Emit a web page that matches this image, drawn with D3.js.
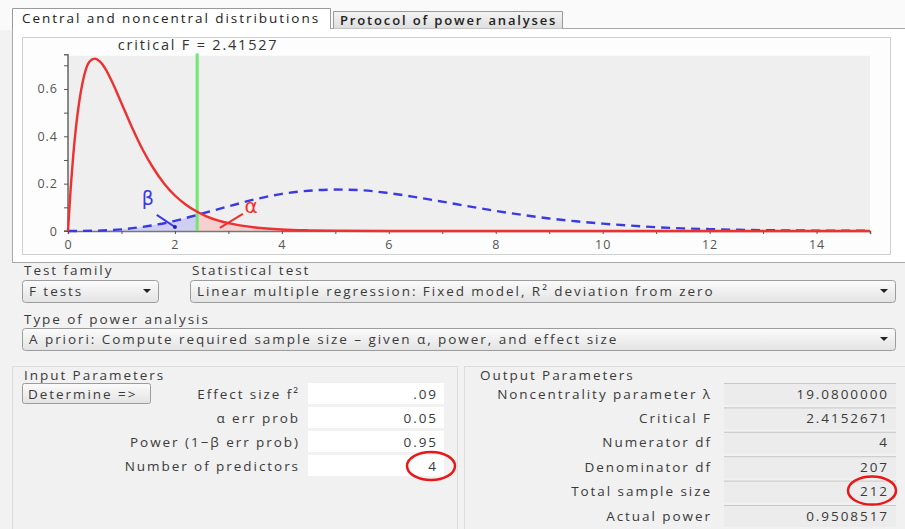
<!DOCTYPE html>
<html>
<head>
<meta charset="utf-8">
<script src="https://cdn.jsdelivr.net/npm/d3@7"></script>
<style>
  html,body{margin:0;padding:0;background:#f2f2f2;}
  svg{display:block;font-family:"Open Sans","DejaVu Sans",sans-serif;}
</style>
</head>
<body>
<svg id="c" width="905" height="529"></svg>
<script>
// ---------- data ----------
const criticalF = 2.41527;
const redX = [0,0.05,0.1,0.15,0.2,0.3,0.4,0.5,0.6,0.7,0.8,1.0,1.2,1.4,1.6,1.8,2.0,2.2,2.41527,2.6,2.8,3.0,3.5,4.0,4.5,5,6,7,8,10,12,15];
const redY = [0,0.18,0.325,0.44,0.53,0.655,0.715,0.728,0.715,0.685,0.642,0.54,0.436,0.342,0.264,0.200,0.150,0.112,0.081,0.061,0.045,0.033,0.015,0.0065,0.0028,0.0012,0.0002,0,0,0,0,0];
const blueX = [0,0.5,1,1.5,2,2.41527,3,3.5,4,4.5,5,5.5,6,6.5,7,7.5,8,8.5,9,9.5,10,10.5,11,11.5,12,12.5,13,13.5,14,14.5,15];
const blueY = [0,0.0012,0.007,0.021,0.043,0.068,0.104,0.134,0.157,0.170,0.175,0.172,0.160,0.143,0.124,0.104,0.085,0.068,0.053,0.041,0.031,0.023,0.016,0.011,0.008,0.005,0.0035,0.0024,0.0016,0.001,0.0007];
const xTickLabels = [0,2,4,6,8,10,12,14];
const yTickLabels = [0,0.2,0.4,0.6];
const tabLabels = ["Central and noncentral distributions","Protocol of power analyses"];
const testFamily = "F tests";
const statisticalTest = "Linear multiple regression: Fixed model, R² deviation from zero";
const powerAnalysis = "A priori: Compute required sample size – given α, power, and effect size";
const inputLabels = ["Effect size f²","α err prob","Power (1−β err prob)","Number of predictors"];
const inputValues = [".09","0.05","0.95","4"];
const outputLabels = ["Noncentrality parameter λ","Critical F","Numerator df","Denominator df","Total sample size","Actual power"];
const outputValues = ["19.0800000","2.4152671","4","207","212","0.9508517"];
const circledInput = 3, circledOutput = 4;

const red = d3.zip(redX, redY).map(d=>({x:d[0],y:d[1]}));
const blue = d3.zip(blueX, blueY).map(d=>({x:d[0],y:d[1]}));

// ---------- layout ----------
const svg = d3.select("#c");
const txt = "#3a3a3a";
const fs = 13.5, ls = 1.95;

svg.append("rect").attr("x",0).attr("y",0).attr("width",905).attr("height",30).attr("fill","#fafafa");
svg.append("rect").attr("x",12.5).attr("y",28.5).attr("width",900).attr("height",234).attr("fill","#fff").attr("stroke","#a8a8a8");

const defs = svg.append("defs");
const grad = defs.append("linearGradient").attr("id","tabg").attr("x1",0).attr("y1",0).attr("x2",0).attr("y2",1);
grad.append("stop").attr("offset",0).attr("stop-color","#f4f4f4");
grad.append("stop").attr("offset",1).attr("stop-color","#dedede");
const sg = defs.append("linearGradient").attr("id","selg").attr("x1",0).attr("y1",0).attr("x2",0).attr("y2",1);
sg.append("stop").attr("offset",0).attr("stop-color","#fbfbfb");
sg.append("stop").attr("offset",1).attr("stop-color","#e3e3e3");

// tab 2
svg.append("path").attr("d","M333.5,28.5 V11.5 H562.5 V28.5").attr("fill","url(#tabg)").attr("stroke","#9a9a9a");
svg.append("text").attr("x",340).attr("y",24.5).attr("font-size",13).attr("letter-spacing",1.85).attr("fill","#222").attr("font-weight",600).text(tabLabels[1]);
// tab 1 (active)
svg.append("path").attr("d","M12.5,29 V8.5 H330.5 V29").attr("fill","#fff").attr("stroke","#9a9a9a");
svg.append("text").attr("x",22).attr("y",23).attr("font-size",fs).attr("letter-spacing",ls).attr("fill","#222").text(tabLabels[0]);

// inner chart box
svg.append("rect").attr("x",22.5).attr("y",37.5).attr("width",868).attr("height",217).attr("fill","#fdfdfd").attr("stroke","#d0d0d0");

// ---------- chart ----------
const x = d3.scaleLinear().domain([0,15]).range([68,870]);
const y = d3.scaleLinear().domain([0,0.735]).range([231,57]);

svg.append("rect").attr("x",x(0)).attr("y",y(0.74)).attr("width",x(15)-x(0)).attr("height",y(0)-y(0.74)).attr("fill","#efefef");

const curve = d3.curveMonotoneX;
svg.append("path").datum(blue.filter(d=>d.x<=criticalF))
  .attr("d", d3.area().x(d=>x(d.x)).y0(y(0)).y1(d=>y(d.y)).curve(curve))
  .attr("fill","#cfcff3");
svg.append("path").datum(red.filter(d=>d.x>=criticalF))
  .attr("d", d3.area().x(d=>x(d.x)).y0(y(0)).y1(d=>y(d.y)).curve(curve))
  .attr("fill","#f5d0d0");

const xAxis = d3.axisBottom(x).tickValues(d3.range(0,16,1)).tickSize(3).tickFormat(d=>xTickLabels.includes(d)?d:"");
const gx = svg.append("g").attr("transform",`translate(0,${y(0)})`).call(xAxis);
gx.select(".domain").attr("stroke","#777").attr("stroke-width",1.5);
gx.selectAll(".tick line").attr("stroke","#555");
gx.selectAll("text").attr("font-size",12.5).attr("letter-spacing",1).attr("fill","#555").attr("dy","0.95em").attr("font-family","'Open Sans',sans-serif");

const yAxis = d3.axisLeft(y).tickValues(d3.range(0,0.71,0.1)).tickSize(4).tickFormat(d=>{
  const r = Math.round(d*10)/10; return yTickLabels.includes(r) ? (r===0?"0":r.toFixed(1)) : "";});
const gy = svg.append("g").attr("transform",`translate(${x(0)},0)`).call(yAxis);
gy.select(".domain").attr("stroke","#666").attr("stroke-width",1.5).attr("d",`M-4,${y(0.745)}H0V${y(0)}H-4`);
gy.selectAll(".tick line").attr("stroke","#555");
gy.selectAll("text").attr("font-size",12.5).attr("letter-spacing",1).attr("fill","#555").attr("x",-10).attr("font-family","'Open Sans',sans-serif");

svg.append("line").attr("x1",x(criticalF)).attr("x2",x(criticalF)).attr("y1",y(0.75)).attr("y2",y(0))
  .attr("stroke","#6ee86e").attr("stroke-width",3);
svg.append("text").attr("x",x(criticalF)+1).attr("y",50).attr("text-anchor","middle").attr("font-size",14.5).attr("letter-spacing",1.8).attr("fill","#333").text("critical F = " + criticalF);

const line = d3.line().x(d=>x(d.x)).y(d=>y(d.y)).curve(curve);
svg.append("path").datum(blue).attr("d",line).attr("fill","none").attr("stroke","#3a3ae0").attr("stroke-width",2.4).attr("stroke-dasharray","9,6");
svg.append("path").datum(red).attr("d",line).attr("fill","none").attr("stroke","#ee3030").attr("stroke-width",2.4);

// annotations
svg.append("line").attr("x1",x(1.66)).attr("y1",y(0.068)).attr("x2",x(2.0)).attr("y2",y(0.017)).attr("stroke","#3a3ae0").attr("stroke-width",2);
svg.append("circle").attr("cx",x(2.0)).attr("cy",y(0.017)).attr("r",2).attr("fill","#2020c0");
svg.append("text").attr("x",x(1.38)).attr("y",y(0.11)).attr("font-size",19).attr("fill","#3a3ae0").attr("font-family","'DejaVu Sans',sans-serif").text("β");
svg.append("line").attr("x1",x(3.27)).attr("y1",y(0.072)).attr("x2",x(2.84)).attr("y2",y(0.013)).attr("stroke","#ee3030").attr("stroke-width",2);
svg.append("text").attr("x",x(3.3)).attr("y",y(0.075)).attr("font-size",20).attr("fill","#ee3030").attr("font-family","'DejaVu Sans',sans-serif").text("α");

// ---------- form ----------
function label(xp, yp, t, anchor){
  return svg.append("text").attr("x",xp).attr("y",yp).attr("font-size",fs).attr("letter-spacing",ls)
    .attr("fill",txt).attr("text-anchor",anchor||"start").text(t);
}
function select(x0, y0, w, h, t){
  svg.append("rect").attr("x",x0+0.5).attr("y",y0+0.5).attr("width",w).attr("height",h).attr("rx",3)
    .attr("fill","url(#selg)").attr("stroke","#9c9c9c");
  label(x0+7, y0+h/2+5, t);
  svg.append("path").attr("d",`M${x0+w-15},${y0+h/2-2} h8 l-4,4 z`).attr("fill","#222");
}
label(24,275,"Test family");
label(192,275,"Statistical test");
select(22,280,136,22,testFamily);
select(190,280,705,22,statisticalTest);
label(24,324,"Type of power analysis");
select(22,328,873,22,powerAnalysis);

svg.append("rect").attr("x",12.5).attr("y",366.5).attr("width",445).attr("height",170).attr("fill","#f1f1f1").attr("stroke","#dcdcdc");
svg.append("rect").attr("x",464.5).attr("y",366.5).attr("width",445).attr("height",170).attr("fill","#f1f1f1").attr("stroke","#dcdcdc");
label(24,380,"Input Parameters");
label(480,380,"Output Parameters");

svg.append("rect").attr("x",22.5).attr("y",383.5).attr("width",128).attr("height",20).attr("rx",2)
  .attr("fill","url(#selg)").attr("stroke","#9c9c9c");
label(28,398.5,"Determine =>");

inputLabels.forEach((t,i)=>{
  const yb = 383 + i*24;
  svg.append("rect").attr("x",308).attr("y",yb).attr("width",136).attr("height",21).attr("fill","#ffffff");
  label(300, yb+15.5, t, "end");
  label(438, yb+15.5, inputValues[i], "end");
});
outputLabels.forEach((t,i)=>{
  const yb = 383 + i*24.4;
  svg.append("rect").attr("x",724).attr("y",yb).attr("width",172).attr("height",22).attr("fill","#ececec");
  svg.append("line").attr("x1",724).attr("x2",896).attr("y1",yb+0.5).attr("y2",yb+0.5).attr("stroke","#c8c8c8");
  label(712, yb+15.5, t, "end");
  label(889, yb+15.5, outputValues[i], "end");
});
svg.append("ellipse").attr("cx",431).attr("cy",383+circledInput*24+11).attr("rx",24).attr("ry",14)
  .attr("fill","none").attr("stroke","#e81818").attr("stroke-width",2.5);
svg.append("ellipse").attr("cx",872).attr("cy",383+circledOutput*24.4+10).attr("rx",24).attr("ry",14)
  .attr("fill","none").attr("stroke","#e81818").attr("stroke-width",2.5);
</script>
</body>
</html>
